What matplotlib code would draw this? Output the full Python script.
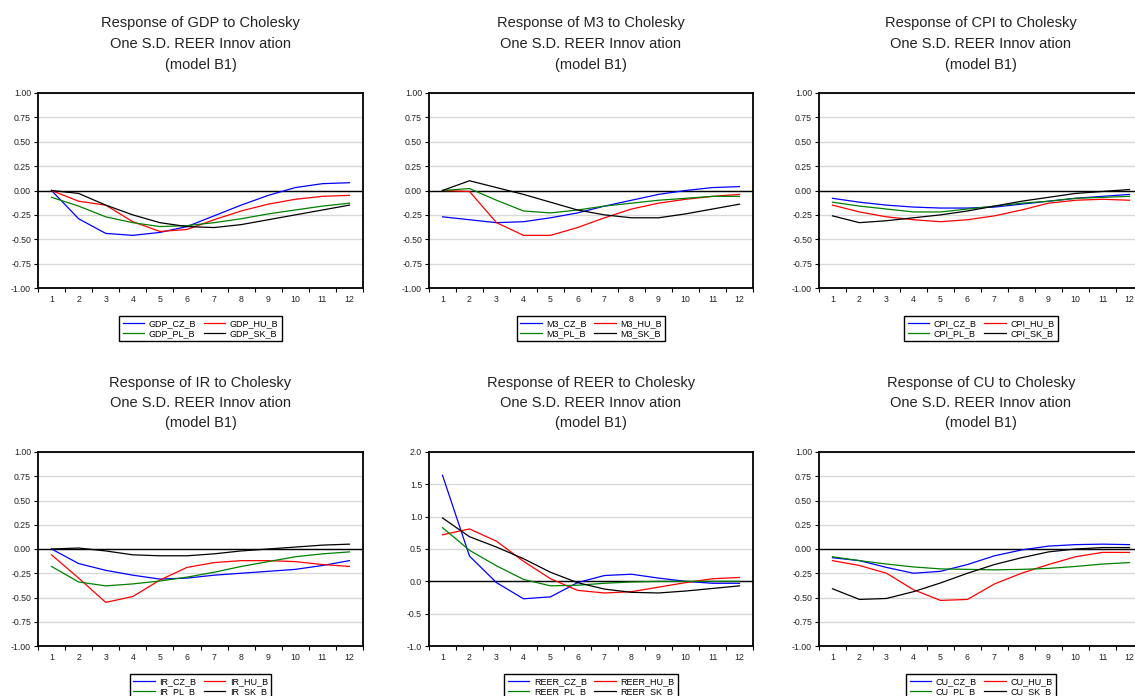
import matplotlib
matplotlib.use("Agg")
import matplotlib.pyplot as plt
from matplotlib.ticker import FixedLocator, NullFormatter

plt.rcParams["font.family"] = ["Liberation Sans", "DejaVu Sans"]

W, H = 1135, 696
periods = list(range(1, 13))

gdp_cz = [0.00, -0.29, -0.44, -0.46, -0.43, -0.37, -0.26, -0.15, -0.05, 0.03, 0.07, 0.08]
gdp_hu = [0.00, -0.11, -0.15, -0.32, -0.42, -0.40, -0.30, -0.21, -0.14, -0.09, -0.06, -0.05]
gdp_pl = [-0.07, -0.16, -0.27, -0.33, -0.37, -0.36, -0.33, -0.29, -0.24, -0.20, -0.16, -0.13]
gdp_sk = [0.00, -0.03, -0.15, -0.25, -0.33, -0.37, -0.38, -0.35, -0.30, -0.25, -0.20, -0.15]

m3_cz = [-0.27, -0.30, -0.33, -0.32, -0.28, -0.23, -0.16, -0.10, -0.04, 0.00, 0.03, 0.04]
m3_hu = [0.00, -0.01, -0.33, -0.46, -0.46, -0.38, -0.28, -0.19, -0.13, -0.09, -0.06, -0.04]
m3_pl = [0.00, 0.02, -0.10, -0.21, -0.23, -0.20, -0.16, -0.13, -0.10, -0.08, -0.06, -0.06]
m3_sk = [0.00, 0.10, 0.03, -0.04, -0.12, -0.20, -0.25, -0.28, -0.28, -0.24, -0.19, -0.14]

cpi_cz = [-0.08, -0.12, -0.15, -0.17, -0.18, -0.18, -0.17, -0.14, -0.11, -0.08, -0.06, -0.04]
cpi_hu = [-0.15, -0.22, -0.27, -0.30, -0.32, -0.30, -0.26, -0.20, -0.13, -0.10, -0.09, -0.10]
cpi_pl = [-0.12, -0.16, -0.19, -0.22, -0.22, -0.19, -0.16, -0.13, -0.11, -0.08, -0.07, -0.06]
cpi_sk = [-0.26, -0.33, -0.31, -0.28, -0.25, -0.21, -0.16, -0.11, -0.07, -0.03, -0.01, 0.01]

ir_cz = [0.00, -0.15, -0.22, -0.27, -0.31, -0.30, -0.27, -0.25, -0.23, -0.21, -0.17, -0.12]
ir_hu = [-0.06, -0.30, -0.55, -0.49, -0.32, -0.19, -0.14, -0.12, -0.12, -0.13, -0.16, -0.18]
ir_pl = [-0.18, -0.34, -0.38, -0.36, -0.33, -0.29, -0.24, -0.18, -0.13, -0.08, -0.05, -0.03]
ir_sk = [0.00, 0.01, -0.02, -0.06, -0.07, -0.07, -0.05, -0.02, 0.00, 0.02, 0.04, 0.05]

reer_cz = [1.64, 0.39, -0.02, -0.27, -0.24, -0.02, 0.09, 0.11, 0.05, 0.00, -0.03, -0.03]
reer_hu = [0.72, 0.81, 0.62, 0.31, 0.04, -0.14, -0.18, -0.16, -0.09, -0.02, 0.04, 0.06]
reer_pl = [0.83, 0.48, 0.24, 0.03, -0.07, -0.06, -0.03, -0.01, 0.00, 0.00, 0.00, 0.00]
reer_sk = [0.98, 0.69, 0.53, 0.35, 0.14, -0.02, -0.12, -0.17, -0.18, -0.15, -0.11, -0.07]

cu_cz = [-0.09, -0.12, -0.19, -0.25, -0.23, -0.16, -0.07, -0.01, 0.03, 0.045, 0.05, 0.045]
cu_hu = [-0.12, -0.17, -0.25, -0.42, -0.53, -0.52, -0.36, -0.25, -0.16, -0.08, -0.035, -0.035]
cu_pl = [-0.08, -0.12, -0.155, -0.185, -0.205, -0.21, -0.215, -0.21, -0.20, -0.18, -0.155, -0.14]
cu_sk = [-0.41, -0.52, -0.51, -0.44, -0.35, -0.25, -0.16, -0.09, -0.03, 0.00, 0.015, 0.015]

ticks_1 = [-1.00, -0.75, -0.50, -0.25, 0.00, 0.25, 0.50, 0.75, 1.00]
ticks_reer = [-1.0, -0.5, 0.0, 0.5, 1.0, 1.5, 2.0]

COLORS = {"CZ": "#0000ff", "HU": "#ff0000", "PL": "#008000", "SK": "#000000"}

panels = [
    ("GDP", [gdp_cz, gdp_hu, gdp_pl, gdp_sk], ticks_1, "%.2f"),
    ("M3", [m3_cz, m3_hu, m3_pl, m3_sk], ticks_1, "%.2f"),
    ("CPI", [cpi_cz, cpi_hu, cpi_pl, cpi_sk], ticks_1, "%.2f"),
    ("IR", [ir_cz, ir_hu, ir_pl, ir_sk], ticks_1, "%.2f"),
    ("REER", [reer_cz, reer_hu, reer_pl, reer_sk], ticks_reer, "%.1f"),
    ("CU", [cu_cz, cu_hu, cu_pl, cu_sk], ticks_1, "%.2f"),
]

# pixel boxes (left, right) per column, (top, bottom) per row
cols = [(38, 363), (429, 753), (819, 1143)]
rows = [(93, 288), (452, 646)]
title_y = [(23, 44, 65), (383, 403, 423)]
legend_top = [316, 674]

fig = plt.figure(figsize=(W / 100, H / 100), dpi=100)
fig.patch.set_facecolor("white")

for i, (name, series, yt, fmt) in enumerate(panels):
    r, c = divmod(i, 3)
    l, rr = cols[c]
    t, b = rows[r]
    ax = fig.add_axes([l / W, 1 - b / H, (rr - l) / W, (b - t) / H])

    for yv in yt:
        ax.axhline(yv, color="#d8d8d8", lw=1.0, zorder=0)
    ax.axhline(0, color="black", lw=1.0, zorder=1)

    lines = {}
    for key, vals in zip(["CZ", "HU", "PL", "SK"], series):
        ln, = ax.plot(periods, vals, color=COLORS[key], lw=0.9, label=f"{name}_{key}_B", zorder=2)
        lines[key] = ln

    ax.set_xlim(0.5, 12.5)
    ax.set_ylim(yt[0], yt[-1])
    ax.set_yticks(yt)
    ax.set_yticklabels([fmt % v for v in yt])
    ax.xaxis.set_major_locator(FixedLocator([k + 0.5 for k in range(0, 13)]))
    ax.xaxis.set_major_formatter(NullFormatter())
    ax.xaxis.set_minor_locator(FixedLocator(periods))
    ax.set_xticklabels([str(p) for p in periods], minor=True)
    ax.tick_params(axis="x", which="major", length=3, width=0.8, direction="out")
    ax.tick_params(axis="x", which="minor", length=0, labelsize=6.3, pad=5, labelcolor="#222222")
    ax.tick_params(axis="y", length=3, width=0.8, labelsize=6.3, pad=2, labelcolor="#222222")
    for sp in ax.spines.values():
        sp.set_linewidth(1.3)
        sp.set_color("black")

    cx = (l + rr) / 2 / W
    texts = [f"Response of {name} to Cholesky", "One S.D. REER Innov ation", "(model B1)"]
    for txt, ty in zip(texts, title_y[r]):
        fig.text(cx, 1 - ty / H, txt, ha="center", va="center", fontsize=10.5, color="#222222")

    handles = [lines["CZ"], lines["PL"], lines["HU"], lines["SK"]]
    fig.legend(handles=handles, labels=[h.get_label() for h in handles],
               loc="upper center", bbox_to_anchor=(cx, 1 - legend_top[r] / H),
               ncol=2, fontsize=6.5, frameon=True, fancybox=False, framealpha=1,
               edgecolor="black", borderpad=0.35, handlelength=2.4, handletextpad=0.5,
               columnspacing=0.8, labelspacing=0.1, borderaxespad=0)

fig.savefig("out.png", dpi=100)
plt.close(fig)
